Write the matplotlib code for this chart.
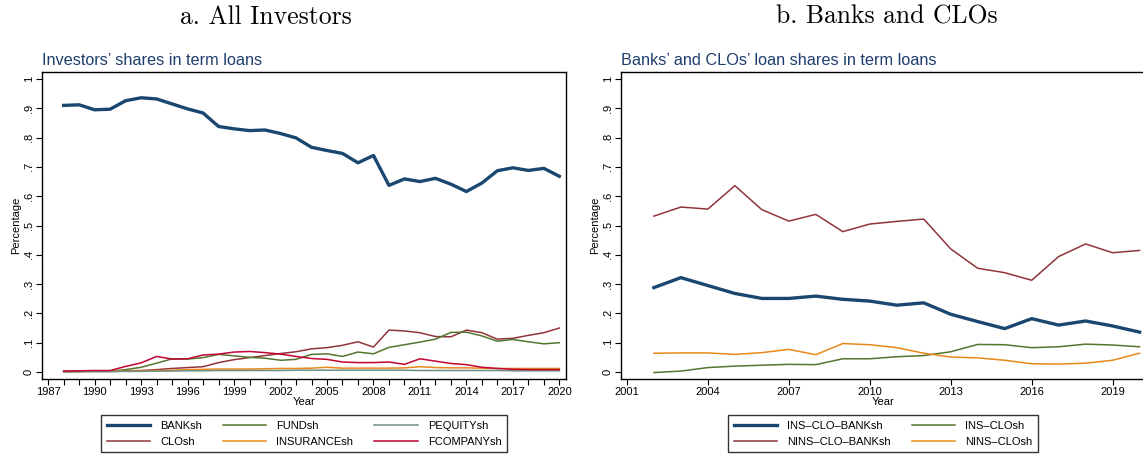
import matplotlib
matplotlib.use("Agg")
import matplotlib.pyplot as plt
from matplotlib.ticker import FixedLocator

# ── Data ─────────────────────────────────────────────────────────────

years_all = list(range(1988, 2021))

bank_sh = [0.910, 0.912, 0.895, 0.897, 0.926, 0.936, 0.932, 0.915, 0.898, 0.884,
           0.838, 0.830, 0.824, 0.826, 0.814, 0.799, 0.767, 0.756, 0.746, 0.714,
           0.739, 0.637, 0.659, 0.650, 0.661, 0.641, 0.616, 0.645, 0.687, 0.697,
           0.688, 0.695, 0.668]
clo_sh = [0.002, 0.002, 0.003, 0.003, 0.004, 0.005, 0.008, 0.012, 0.015, 0.018,
          0.032, 0.042, 0.049, 0.056, 0.063, 0.069, 0.079, 0.083, 0.091, 0.103,
          0.085, 0.143, 0.140, 0.134, 0.121, 0.120, 0.143, 0.134, 0.112, 0.115,
          0.125, 0.134, 0.150]
fund_sh = [0.002, 0.002, 0.003, 0.003, 0.008, 0.016, 0.030, 0.045, 0.044, 0.049,
           0.060, 0.055, 0.050, 0.047, 0.040, 0.043, 0.060, 0.062, 0.053, 0.068,
           0.062, 0.084, 0.093, 0.102, 0.112, 0.135, 0.136, 0.123, 0.105, 0.111,
           0.103, 0.096, 0.100]
pequity_sh = [0.000, 0.001, 0.001, 0.001, 0.002, 0.002, 0.003, 0.003, 0.004, 0.004,
              0.005, 0.005, 0.005, 0.005, 0.005, 0.006, 0.006, 0.006, 0.006, 0.006,
              0.006, 0.006, 0.006, 0.005, 0.005, 0.005, 0.005, 0.005, 0.005, 0.004,
              0.004, 0.004, 0.004]
insurance_sh = [0.001, 0.001, 0.002, 0.002, 0.003, 0.004, 0.005, 0.006, 0.008, 0.009,
                0.010, 0.010, 0.010, 0.011, 0.012, 0.012, 0.013, 0.016, 0.013, 0.013,
                0.013, 0.013, 0.014, 0.018, 0.015, 0.014, 0.014, 0.013, 0.012, 0.012,
                0.012, 0.012, 0.012]
fcompany_sh = [0.003, 0.004, 0.005, 0.005, 0.019, 0.031, 0.053, 0.044, 0.045, 0.058,
               0.061, 0.068, 0.070, 0.066, 0.061, 0.053, 0.046, 0.043, 0.034, 0.032,
               0.032, 0.034, 0.026, 0.045, 0.037, 0.029, 0.025, 0.016, 0.012, 0.009,
               0.008, 0.008, 0.008]

years_bc = list(range(2002, 2021))

ins_clo_bank_sh = [0.288, 0.322, 0.295, 0.268, 0.251, 0.251, 0.259, 0.248, 0.242, 0.228,
                   0.236, 0.197, 0.172, 0.148, 0.182, 0.160, 0.174, 0.157, 0.136]
nins_clo_bank_sh = [0.532, 0.563, 0.556, 0.636, 0.554, 0.515, 0.538, 0.479, 0.505, 0.514,
                    0.522, 0.420, 0.354, 0.339, 0.313, 0.394, 0.437, 0.407, 0.415]
ins_clo_sh = [-0.002, 0.003, 0.015, 0.020, 0.023, 0.026, 0.025, 0.045, 0.045, 0.052,
              0.056, 0.069, 0.094, 0.093, 0.083, 0.086, 0.095, 0.092, 0.086]
nins_clo_sh = [0.064, 0.065, 0.065, 0.060, 0.066, 0.077, 0.059, 0.097, 0.093, 0.083,
               0.064, 0.051, 0.048, 0.040, 0.028, 0.027, 0.030, 0.040, 0.064]

y_ticks = [0.0, 0.1, 0.2, 0.3, 0.4, 0.5, 0.6, 0.7, 0.8, 0.9, 1.0]
y_labels = ["0", ".1", ".2", ".3", ".4", ".5", ".6", ".7", ".8", ".9", "1"]

# Stata s2color palette
NAVY = "#1a476f"
MAROON = "#90353b"
GREEN = "#55752f"
ORANGE = "#e8891a"
TEAL = "#6e8e84"
CRANBERRY = "#c10534"
SUBTITLE = "#1f3e6e"

plt.rcParams["font.family"] = ["Liberation Sans", "DejaVu Sans"]

W, H = 1143, 457
fig = plt.figure(figsize=(W / 100, H / 100), dpi=100)


def _px(x0, y0, x1, y1):
    """Axes rect from pixel box (left, top, right, bottom)."""
    return [x0 / W, 1 - y1 / H, (x1 - x0) / W, (y1 - y0) / H]


def _style(ax, xlim, major, minor=None):
    ax.set_xlim(*xlim)
    ax.set_ylim(-0.024, 1.024)
    ax.set_yticks(y_ticks)
    ax.set_yticklabels(y_labels, rotation=90, va="center", fontsize=8)
    ax.xaxis.set_major_locator(FixedLocator(major))
    if minor is not None:
        ax.xaxis.set_minor_locator(FixedLocator(minor))
    ax.set_xticklabels([str(y) for y in major], fontsize=8)
    ax.tick_params(axis="both", which="both", direction="out", length=4,
                   width=0.8, color="black", pad=2)
    for s in ax.spines.values():
        s.set_linewidth(1.0)
        s.set_color("black")
    ax.set_xlabel("Year", fontsize=8, labelpad=0)
    ax.set_ylabel("Percentage", fontsize=8, labelpad=2)


def _legend(ax, ncol, cx):
    leg = ax.legend(ncol=ncol, loc="upper center",
                    bbox_to_anchor=(cx / W, 1 - 415 / H),
                    bbox_transform=fig.transFigure, fontsize=8, frameon=True,
                    fancybox=False, edgecolor="black", handlelength=3.9,
                    columnspacing=1.9, handletextpad=0.9, borderpad=0.5,
                    labelspacing=0.55, borderaxespad=0)
    leg.get_frame().set_linewidth(1.0)
    return leg


# ── Panel a ──────────────────────────────────────────────────────────

ax1 = fig.add_axes(_px(42, 72, 566, 379))
ax1.plot(years_all, bank_sh, color=NAVY, lw=2.4, label="BANKsh")
ax1.plot(years_all, clo_sh, color=MAROON, lw=1.1, label="CLOsh")
ax1.plot(years_all, fund_sh, color=GREEN, lw=1.1, label="FUNDsh")
ax1.plot(years_all, insurance_sh, color=ORANGE, lw=1.1, label="INSURANCEsh")
ax1.plot(years_all, pequity_sh, color=TEAL, lw=1.1, label="PEQUITYsh")
ax1.plot(years_all, fcompany_sh, color=CRANBERRY, lw=1.1, label="FCOMPANYsh")
_style(ax1, (1986.6, 2020.43), list(range(1987, 2021, 3)), list(range(1987, 2021)))
ax1.set_title("Investors\u2019 shares in term loans", loc="left", fontsize=11.7,
              color=SUBTITLE, pad=5)
_legend(ax1, 3, 304)

# ── Panel b ──────────────────────────────────────────────────────────

ax2 = fig.add_axes(_px(621, 72, 1145, 379))
ax2.plot(years_bc, ins_clo_bank_sh, color=NAVY, lw=2.4, label="INS\u2013CLO\u2013BANKsh")
ax2.plot(years_bc, nins_clo_bank_sh, color=MAROON, lw=1.1, label="NINS\u2013CLO\u2013BANKsh")
ax2.plot(years_bc, ins_clo_sh, color=GREEN, lw=1.1, label="INS\u2013CLOsh")
ax2.plot(years_bc, nins_clo_sh, color=ORANGE, lw=1.1, label="NINS\u2013CLOsh")
_style(ax2, (2000.78, 2020.2), list(range(2001, 2021, 3)))
ax2.set_title("Banks\u2019 and CLOs\u2019 loan shares in term loans", loc="left",
              fontsize=11.7, color=SUBTITLE, pad=5)
_legend(ax2, 2, 883)

# ── Panel headings ───────────────────────────────────────────────────

fig.text(266 / W, 1 - 17 / H, "a. All Investors", family="cmr10", fontsize=18.5,
         ha="center", va="center")
fig.text(887 / W, 1 - 17 / H, "b. Banks and CLOs", family="cmr10", fontsize=18.5,
         ha="center", va="center")

fig.savefig("out.png", dpi=100)
